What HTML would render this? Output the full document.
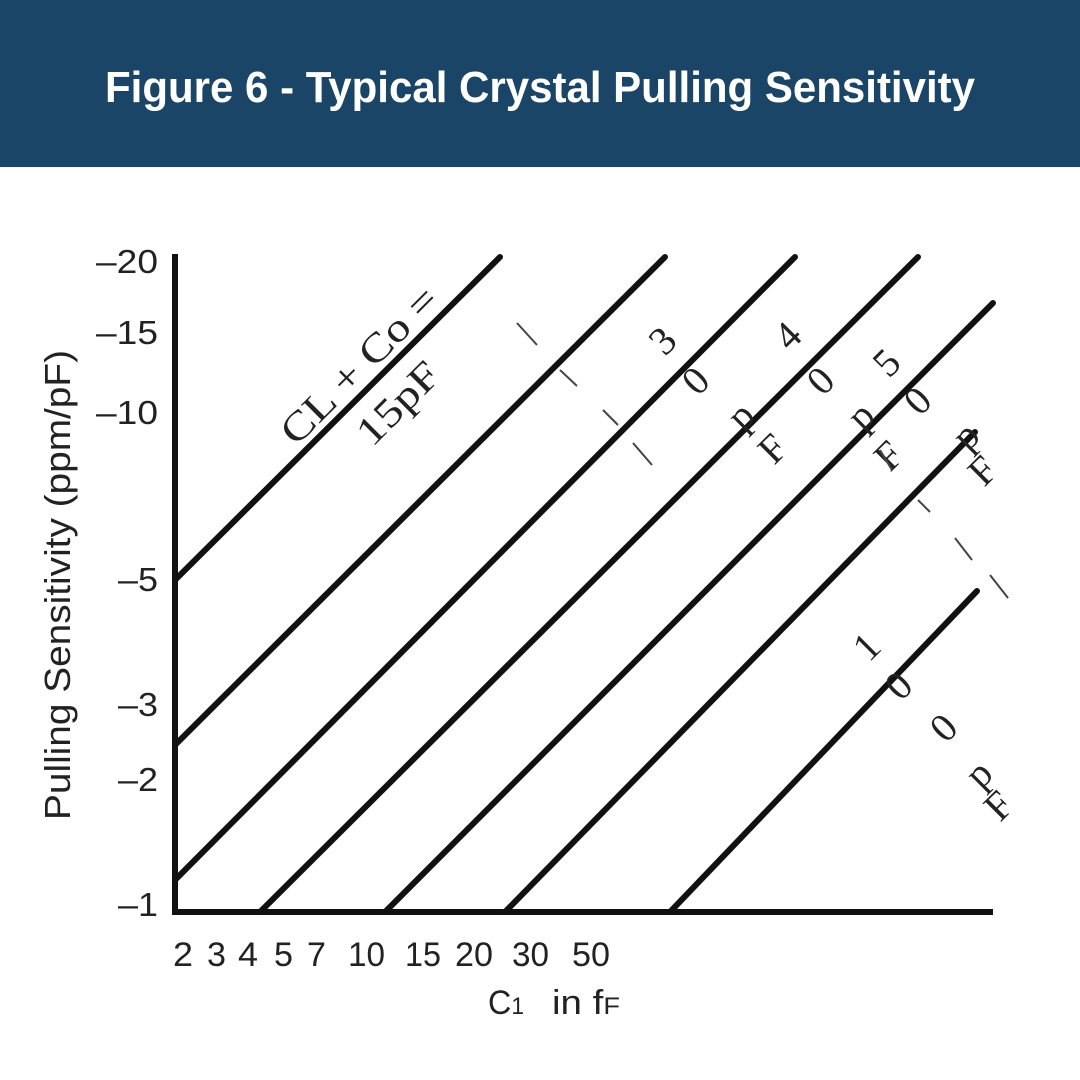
<!DOCTYPE html>
<html><head><meta charset="utf-8"><style>
html,body{margin:0;padding:0;background:#fff;}
.wrap{width:1080px;height:1080px;position:relative;overflow:hidden;background:#fff;}
.hdr{position:absolute;left:0;top:0;width:1080px;height:167px;background:#1a4566;}
svg{position:absolute;left:0;top:0;}
</style></head><body><div class="wrap">
<div class="hdr"></div>
<svg width="1080" height="1080" viewBox="0 0 1080 1080">
<text x="105" y="102" font-family="Liberation Sans,sans-serif" font-weight="bold" font-size="44" fill="#fff" textLength="870" lengthAdjust="spacingAndGlyphs">Figure 6 - Typical Crystal Pulling Sensitivity</text>
<g stroke="#111" stroke-width="6" stroke-linecap="square" fill="none">
<line x1="175" y1="257" x2="175" y2="912"/>
<line x1="175" y1="912" x2="990" y2="912"/>
</g>
<g stroke="#111" stroke-width="6" stroke-linecap="round" fill="none">
<line x1="175" y1="580" x2="500" y2="257"/>
<line x1="175" y1="745" x2="665" y2="257"/>
<line x1="175" y1="880" x2="795" y2="257"/>
<line x1="260" y1="912" x2="918" y2="257"/>
<line x1="385" y1="912" x2="993" y2="303"/>
<line x1="505" y1="912" x2="975" y2="432"/>
<line x1="670" y1="912" x2="977" y2="591"/>
</g>
<g font-family="Liberation Sans,sans-serif" font-size="33" fill="#222" text-anchor="end">
<text x="158" y="273" textLength="62" lengthAdjust="spacingAndGlyphs">–20</text>
<text x="158" y="344" textLength="62" lengthAdjust="spacingAndGlyphs">–15</text>
<text x="158" y="424" textLength="62" lengthAdjust="spacingAndGlyphs">–10</text>
<text x="158" y="591" textLength="40" lengthAdjust="spacingAndGlyphs">–5</text>
<text x="158" y="716" textLength="40" lengthAdjust="spacingAndGlyphs">–3</text>
<text x="158" y="791" textLength="40" lengthAdjust="spacingAndGlyphs">–2</text>
<text x="158" y="916" textLength="40" lengthAdjust="spacingAndGlyphs">–1</text>
</g>
<text transform="translate(70,820) rotate(-90)" font-family="Liberation Sans,sans-serif" font-size="36" fill="#222" textLength="470" lengthAdjust="spacingAndGlyphs">Pulling Sensitivity  (ppm/pF)</text>
<g font-family="Liberation Sans,sans-serif" font-size="34" fill="#222">
<text x="173" y="966" textLength="20" lengthAdjust="spacingAndGlyphs">2</text>
<text x="207" y="966" textLength="19" lengthAdjust="spacingAndGlyphs">3</text>
<text x="238" y="966" textLength="20" lengthAdjust="spacingAndGlyphs">4</text>
<text x="274" y="966" textLength="19" lengthAdjust="spacingAndGlyphs">5</text>
<text x="307" y="966" textLength="19" lengthAdjust="spacingAndGlyphs">7</text>
<text x="348" y="966" textLength="37" lengthAdjust="spacingAndGlyphs">10</text>
<text x="405" y="966" textLength="36" lengthAdjust="spacingAndGlyphs">15</text>
<text x="455" y="966" textLength="38" lengthAdjust="spacingAndGlyphs">20</text>
<text x="512" y="966" textLength="37" lengthAdjust="spacingAndGlyphs">30</text>
<text x="572" y="966" textLength="38" lengthAdjust="spacingAndGlyphs">50</text>
<text x="488" y="1014" textLength="36" lengthAdjust="spacingAndGlyphs">C<tspan font-size="24">1</tspan></text>
<text x="552" y="1014" textLength="68" lengthAdjust="spacingAndGlyphs">in f<tspan font-size="24">F</tspan></text>
</g>
<g font-family="Liberation Serif,serif" fill="#222">
<text transform="translate(296,447) rotate(-45)" font-size="40" textLength="205" lengthAdjust="spacingAndGlyphs">CL + Co =</text>
<text transform="translate(372,448) rotate(-45)" font-size="40" textLength="100" lengthAdjust="spacingAndGlyphs">15pF</text>
</g>
<g font-family="Liberation Serif,serif" font-size="40" fill="#222" text-anchor="middle">
<text transform="translate(672,350) rotate(-45)">3</text>
<text transform="translate(705,390) rotate(-45)">0</text>
<text transform="translate(750,425) rotate(-45)">p</text>
<text transform="translate(782,458) rotate(-45)">F</text>
<text transform="translate(797,345) rotate(-45)">4</text>
<text transform="translate(830,390) rotate(-45)">0</text>
<text transform="translate(870,425) rotate(-45)">p</text>
<text transform="translate(898,465) rotate(-45)">F</text>
<text transform="translate(896,372) rotate(-45)">5</text>
<text transform="translate(927,410) rotate(-45)">0</text>
<text transform="translate(975,445) rotate(-45)">p</text>
<text transform="translate(992,480) rotate(-45)">F</text>
<text transform="translate(876,656) rotate(-45)">1</text>
<text transform="translate(908,695) rotate(-45)">0</text>
<text transform="translate(953,737) rotate(-45)">0</text>
<text transform="translate(988,783) rotate(-45)">p</text>
<text transform="translate(1008,815) rotate(-45)">F</text>
</g>
<g stroke="#444" stroke-width="2" fill="none">
<line x1="517" y1="323" x2="537" y2="345"/>
<line x1="560" y1="370" x2="577" y2="386"/>
<line x1="603" y1="410" x2="618" y2="425"/>
<line x1="633" y1="443" x2="652" y2="465"/>
<line x1="880" y1="450" x2="892" y2="470"/>
<line x1="918" y1="500" x2="930" y2="512"/>
<line x1="955" y1="538" x2="972" y2="560"/>
<line x1="990" y1="575" x2="1008" y2="598"/>
</g>
</svg>
</div></body></html>
